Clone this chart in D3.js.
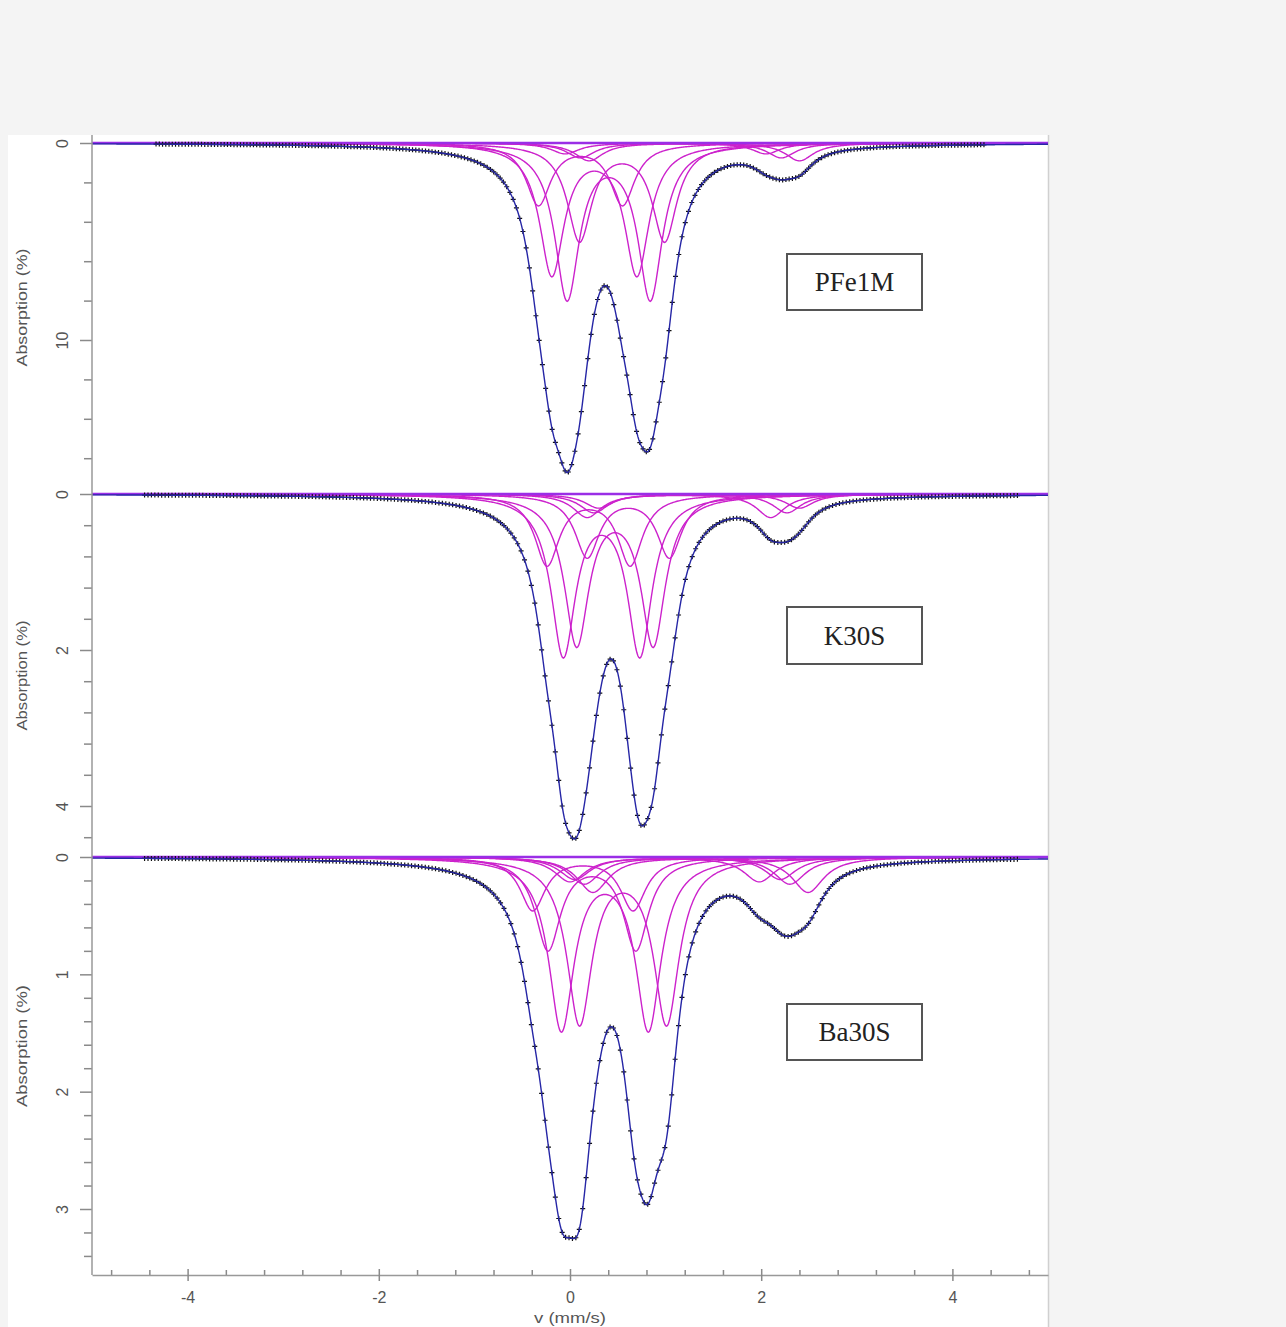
<!DOCTYPE html>
<html>
<head>
<meta charset="utf-8">
<script src="https://cdn.jsdelivr.net/npm/d3@7"></script>
<style>
body { margin: 0; background: #f4f4f4; }
svg { display: block; }
</style>
</head>
<body>
<script>
'use strict';

var samples = ["PFe1M", "K30S", "Ba30S"];

// fitted doublets
// shift, splitting and half width in mm/s, line depth in % absorption
var pfeShift = [0.11, 0.255, 0.405, 0.545, 1.0, 1.16, 1.3];
var pfeSplit = [0.88, 0.89, 0.87, 0.89, 2.1, 2.1, 2.2];
var pfeDepth = [3.1, 6.6, 7.8, 4.9, 0.55, 0.75, 0.9];
var pfeWidth = [0.155, 0.155, 0.155, 0.155, 0.18, 0.18, 0.18];

var kShift = [0.195, 0.33, 0.47, 0.61, 1.14, 1.26, 1.35];
var kSplit = [0.87, 0.80, 0.80, 0.86, 1.92, 2.02, 2.1];
var kDepth = [0.9, 2.03, 1.9, 0.8, 0.3, 0.24, 0.18];
var kWidth = [0.155, 0.155, 0.155, 0.155, 0.18, 0.18, 0.18];

var baShift = [0.135, 0.23, 0.365, 0.555, 0.99, 1.125, 1.225, 1.365];
var baSplit = [1.05, 0.92, 0.91, 0.91, 1.98, 2.15, 2.15, 2.25];
var baDepth = [0.45, 0.78, 1.45, 1.4, 0.21, 0.19, 0.23, 0.3];
var baWidth = [0.16, 0.16, 0.16, 0.16, 0.2, 0.2, 0.2, 0.2];

// velocity span of the measured channels
var dataRange = [[-4.33, 4.33], [-4.45, 4.68], [-4.45, 4.68]];
var nChannels = 256;

var yMajor = [[0, 10], [0, 2, 4], [0, 1, 2, 3]];
var yMinorStep = [2, 0.4, 0.2];
var xTicks = [-4, -2, 0, 2, 4];


var fits = [
	{shift: pfeShift, split: pfeSplit, depth: pfeDepth, width: pfeWidth},
	{shift: kShift, split: kSplit, depth: kDepth, width: kWidth},
	{shift: baShift, split: baSplit, depth: baDepth, width: baWidth}
];

// pixel layout of the three stacked panels
var layout = [
	{top: 135, bottom: 494, ref: 10, y0: 143, yRef: 340, box: [787, 254, 135, 56]},
	{top: 494, bottom: 857, ref: 4, y0: 494, yRef: 806, box: [787, 607, 135, 57]},
	{top: 857, bottom: 1275, ref: 3, y0: 857, yRef: 1209, box: [787, 1004, 135, 56]}
];

function lorentz(v, c, hw, d) {
	var t = (v - c) / hw;
	return d / (1 + t * t);
}

function doublet(v, f, i) {
	return lorentz(v, f.shift[i] - f.split[i] / 2, f.width[i], f.depth[i]) +
		lorentz(v, f.shift[i] + f.split[i] / 2, f.width[i], f.depth[i]);
}

function total(v, f) {
	var s = 0;
	for (var i = 0; i < f.shift.length; i++) s += doublet(v, f, i);
	return s;
}

var W = 1286, H = 1327;

var svg = d3.select("body").append("svg")
	.attr("width", W)
	.attr("height", H);

svg.append("rect").attr("width", W).attr("height", H).attr("fill", "#f4f4f4");
svg.append("rect").attr("x", 8).attr("y", 135).attr("width", 1041).attr("height", H - 135).attr("fill", "#fff");
svg.append("line").attr("x1", 1048.5).attr("x2", 1048.5).attr("y1", 135).attr("y2", H)
	.attr("stroke", "#d0d0d0").attr("stroke-width", 1.5);

var xScale = d3.scaleLinear().domain([-5, 5]).range([92, 1048]);

svg.append("clipPath").attr("id", "plotClip")
	.append("rect").attr("x", 92).attr("y", 135).attr("width", 956).attr("height", 1140);

var grid = d3.range(-5, 5.0001, 0.01);

layout.forEach(function(L, p) {
	var f = fits[p];
	var yScale = d3.scaleLinear().domain([0, L.ref]).range([L.y0, L.yRef]);

	var g = svg.append("g").attr("clip-path", "url(#plotClip)");

	var line = d3.line()
		.x(function(d) { return xScale(d[0]); })
		.y(function(d) { return yScale(d[1]); });

	// sub-spectra
	f.shift.forEach(function(s, i) {
		g.append("path")
			.datum(grid.map(function(v) { return [v, doublet(v, f, i)]; }))
			.attr("d", line)
			.attr("fill", "none")
			.attr("stroke", "#cc22cc")
			.attr("stroke-width", 1.4);
	});

	// baseline
	g.append("line")
		.attr("x1", xScale(-5)).attr("x2", xScale(5))
		.attr("y1", yScale(0)).attr("y2", yScale(0))
		.attr("stroke", "#9a2ee6").attr("stroke-width", 2.5);

	// measured channels
	var r = dataRange[p];
	var chans = d3.range(nChannels).map(function(k) {
		var v = r[0] + (r[1] - r[0]) * k / (nChannels - 1);
		return [v, total(v, f)];
	});
	g.selectAll("path.pt")
		.data(chans)
		.enter()
		.append("path")
		.attr("class", "pt")
		.attr("transform", function(d) { return "translate(" + xScale(d[0]) + "," + yScale(d[1]) + ")"; })
		.attr("d", "M-2.5,0H2.5M0,-2.5V2.5")
		.attr("stroke", "#111")
		.attr("stroke-width", 1.2);

	// total fit
	g.append("path")
		.datum(grid.map(function(v) { return [v, total(v, f)]; }))
		.attr("d", line)
		.attr("fill", "none")
		.attr("stroke", "#2626a6")
		.attr("stroke-width", 1.4);

	// y axis of this panel
	var hi = yScale.invert(L.bottom);
	var minor = d3.range(0, hi, yMinorStep[p]).filter(function(t) {
		return yMajor[p].indexOf(Math.round(t * 100) / 100) < 0;
	});

	var axMinor = svg.append("g")
		.attr("transform", "translate(92,0)")
		.call(d3.axisLeft(yScale).tickValues(minor).tickSize(8).tickFormat(""));
	axMinor.select(".domain").remove();

	var axMajor = svg.append("g")
		.attr("transform", "translate(92,0)")
		.call(d3.axisLeft(yScale).tickValues(yMajor[p]).tickSize(12).tickFormat(d3.format("d")));
	axMajor.select(".domain").remove();
	axMajor.selectAll("text")
		.attr("x", 0)
		.attr("dy", "0.35em")
		.attr("transform", "translate(-30,0) rotate(-90)")
		.style("text-anchor", "middle")
		.style("font-size", "16px");

	svg.append("text")
		.attr("transform", "translate(22," + ((L.top + L.bottom) / 2 + (p == 0 ? -7 : (p == 2 ? -20 : 0))) + ") rotate(-90)")
		.attr("dy", "0.35em")
		.style("text-anchor", "middle")
		.style("font-family", "Liberation Sans, Arial, sans-serif")
		.style("font-size", "15px")
		.attr("textLength", [118, 110, 122][p])
		.attr("lengthAdjust", "spacingAndGlyphs")
		.attr("fill", "#555")
		.text("Absorption (%)");

	// sample label
	var b = L.box;
	svg.append("rect")
		.attr("x", b[0]).attr("y", b[1]).attr("width", b[2]).attr("height", b[3])
		.attr("fill", "#fff").attr("stroke", "#555").attr("stroke-width", 2);
	svg.append("text")
		.attr("x", b[0] + b[2] / 2).attr("y", b[1] + b[3] / 2)
		.attr("dy", "0.35em")
		.style("text-anchor", "middle")
		.style("font-family", "Liberation Serif, Times New Roman, serif")
		.style("font-size", "27px")
		.attr("fill", "#222")
		.text(samples[p]);
});

// shared y axis line
svg.append("line")
	.attr("x1", 92).attr("x2", 92).attr("y1", 135).attr("y2", 1275)
	.attr("stroke", "#999").attr("stroke-width", 1.5);

// x axis
var xMinor = d3.range(-4.8, 5, 0.4).filter(function(t) {
	return xTicks.indexOf(Math.round(t * 10) / 10) < 0;
});
svg.append("g")
	.attr("transform", "translate(0,1275)")
	.call(d3.axisBottom(xScale).tickValues(xMinor).tickSize(-5).tickSizeOuter(0).tickFormat(""))
	.select(".domain").remove();
var xAx = svg.append("g")
	.attr("transform", "translate(0,1275)")
	.call(d3.axisBottom(xScale).tickValues(xTicks).tickSizeInner(6).tickSizeOuter(0).tickFormat(d3.format("d")));
xAx.select(".domain").attr("stroke", "#999").attr("stroke-width", 1.5);
xAx.selectAll("text").attr("dy", "1.2em").style("font-size", "16px").text(function(d) { return String(d); });
svg.append("g")
	.attr("transform", "translate(0,1275)")
	.call(d3.axisBottom(xScale).tickValues(xTicks).tickSize(-6).tickFormat(""))
	.select(".domain").remove();

svg.selectAll(".tick line").attr("stroke", "#8a8a8a").attr("stroke-width", 1.5);
svg.selectAll(".tick text")
	.attr("fill", "#555")
	.style("font-family", "Liberation Sans, Arial, sans-serif");

svg.append("text")
	.attr("x", xScale(0)).attr("y", 1323)
	.style("text-anchor", "middle")
	.style("font-family", "Liberation Sans, Arial, sans-serif")
	.style("font-size", "15px")
	.attr("textLength", 72)
	.attr("lengthAdjust", "spacingAndGlyphs")
	.attr("fill", "#555")
	.text("v (mm/s)");
</script>
</body>
</html>
